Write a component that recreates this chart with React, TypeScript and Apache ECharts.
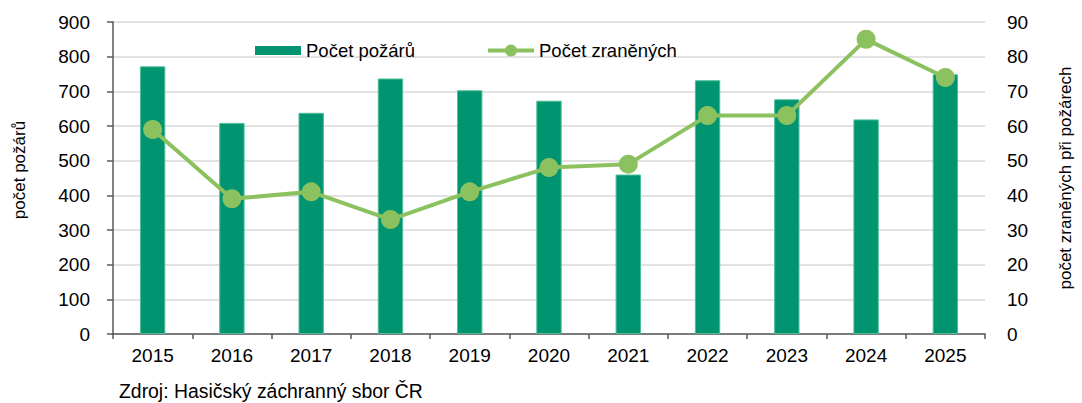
import React, { useEffect, useRef } from "react";
import * as echarts from "echarts";

const years = ["2015", "2016", "2017", "2018", "2019", "2020", "2021", "2022", "2023", "2024", "2025"];
const fires = [772, 609, 638, 737, 703, 673, 460, 732, 677, 619, 749];
const injured = [59, 39, 41, 33, 41, 48, 49, 63, 63, 85, 74];
const leftTicks = { min: 0, max: 900, interval: 100 };
const rightTicks = { min: 0, max: 90, interval: 10 };
const seriesNames = ["Počet požárů", "Počet zraněných"];
const leftAxisName = "počet požárů";
const rightAxisName = "počet zraněných při požárech";
const sourceText = "Zdroj: Hasičský záchranný sbor ČR";

const FONT = "'Liberation Sans', Arial, sans-serif";
const BAR = "#009470";
const LINE = "#8cc160";

export default function App() {
  const ref = useRef<HTMLDivElement>(null);
  useEffect(() => {
    if (!ref.current) return;
    const chart = echarts.init(ref.current, undefined, { renderer: "svg" });
    chart.setOption({
      animation: false,
      textStyle: { fontFamily: FONT, color: "#000" },
      grid: { left: 113, right: 87, top: 22, bottom: 69 },
      legend: {
        left: 250,
        top: 36,
        itemWidth: 46,
        itemHeight: 15,
        itemGap: 71,
        symbolKeepAspect: true,
        textStyle: { fontFamily: FONT, fontSize: 18.5, color: "#000" },
        data: [
          { name: seriesNames[0], icon: "path://M0,0H46V9H0Z", itemStyle: { borderWidth: 0 } },
          { name: seriesNames[1], lineStyle: { width: 4, color: LINE } },
        ],
      },
      xAxis: {
        type: "category",
        data: years,
        boundaryGap: true,
        axisLine: { lineStyle: { color: "#595959", width: 1.5 } },
        axisTick: { show: true, length: 5, alignWithLabel: false, lineStyle: { color: "#595959", width: 1.5 } },
        axisLabel: { fontFamily: FONT, fontSize: 19, color: "#000", margin: 12 },
        splitLine: { show: false },
      },
      yAxis: [
        {
          type: "value",
          ...leftTicks,
          name: leftAxisName,
          nameLocation: "middle",
          nameRotate: 90,
          nameGap: 85,
          nameTextStyle: { fontFamily: FONT, fontSize: 17, color: "#000", padding: [0, 0, 0, 16] },
          axisLine: { show: true, lineStyle: { color: "#595959", width: 1.5 } },
          axisTick: { show: true, length: 6, lineStyle: { color: "#595959", width: 1.5 } },
          axisLabel: { fontFamily: FONT, fontSize: 19, color: "#000", margin: 23 },
          splitLine: { show: true, lineStyle: { color: "#d9d9d9", width: 1.5 } },
        },
        {
          type: "value",
          ...rightTicks,
          position: "right",
          name: rightAxisName,
          nameLocation: "middle",
          nameRotate: 90,
          nameGap: 72,
          nameTextStyle: { fontFamily: FONT, fontSize: 17, color: "#000" },
          axisLine: { show: false },
          axisTick: { show: false },
          axisLabel: { fontFamily: FONT, fontSize: 19, color: "#000", margin: 22 },
          splitLine: { show: false },
        },
      ],
      series: [
        {
          name: seriesNames[0],
          type: "bar",
          data: fires,
          yAxisIndex: 0,
          barWidth: "32%",
          itemStyle: { color: BAR, borderColor: "#4cbf98", borderWidth: 1 },
        },
        {
          name: seriesNames[1],
          type: "line",
          data: injured,
          yAxisIndex: 1,
          symbol: "circle",
          symbolSize: 19,
          lineStyle: { color: LINE, width: 4 },
          itemStyle: { color: LINE },
        },
      ],
      graphic: [
        {
          type: "text",
          left: 119,
          top: 381,
          style: { text: sourceText, font: `19.4px ${FONT}`, fill: "#000" },
        },
      ],
    });
    return () => chart.dispose();
  }, []);
  return (
    <div
      ref={ref}
      style={{ position: "absolute", left: 0, top: 0, width: 1082, height: 403, background: "#fff" }}
    />
  );
}
